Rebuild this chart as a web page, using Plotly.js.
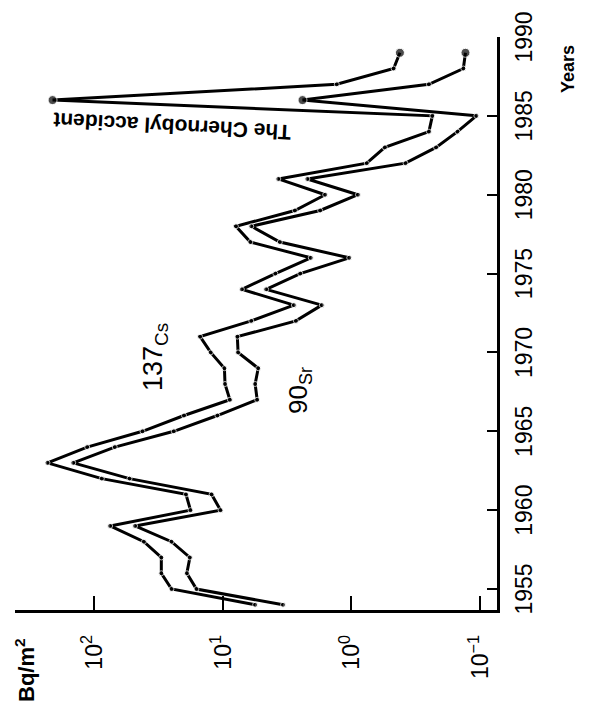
<!DOCTYPE html>
<html><head><meta charset="utf-8">
<script src="https://cdn.plot.ly/plotly-3.0.1.min.js"></script>
<style>
html,body{margin:0;padding:0;background:#fff;overflow:hidden;width:589px;height:708px;}
#wrap{position:absolute;left:0;top:0;width:708px;height:589px;transform-origin:0 0;transform:translate(0px,708px) rotate(-90deg);}
</style></head><body>
<div id="wrap"></div>
<script>
// Deposition, Bq/m2, per year
const years = [1954,1955,1956,1957,1958,1959,1960,1961,1962,1963,1964,1965,1966,1967,1968,1969,1970,1971,
               1972,1973,1974,1975,1976,1977,1978,1979,1980,1981,1982,1983,1984,1985,1986,1987,1988,1989];
const cs137 = [5.6,25,30,30,41,75,17.8,19.3,87,230,113,42,20,8.8,9.6,9.7,12.4,15,
               6,2.8,7.1,3.9,2.07,6.1,7.9,2.75,1.6,3.7,0.76,0.55,0.25,0.235,210,1.3,0.47,0.42];
const sr90  = [3.4,16,19,18,25,48,10.4,12.2,53,145,69,24,11,5.4,5.6,5.3,7.6,7.7,
               2.7,1.7,4.6,2.5,1.04,3.6,6.0,1.75,0.89,2.2,0.38,0.22,0.15,0.107,2.4,0.25,0.135,0.13];
const yearTicks = [1955,1960,1965,1970,1975,1980,1985,1990];
const decadeVals = [100,10,1,0.1];
const decadeLabels = ['10<sup>2</sup>','10<sup>1</sup>','10<sup>0</sup>','10<sup>\u22121</sup>'];

const FONT = 'Liberation Sans, Arial, Helvetica, sans-serif';
const bigAt = [1986, 1989];
function sizes(){ return years.map(y => bigAt.indexOf(y) >= 0 ? 9 : 5); }

const common = {
  type:'scatter', mode:'lines+markers', x: years,
  line:{color:'#000', width:3},
  marker:{color:'#000', size:sizes()},
  showlegend:false, hoverinfo:'skip'
};
const data = [
  Object.assign({}, common, {y: cs137, name:'137Cs'}),
  Object.assign({}, common, {y: sr90, name:'90Sr'})
];

const layout = {
  width:708, height:589,
  margin:{l:98, r:37, t:15, b:92, pad:0},
  paper_bgcolor:'#fff', plot_bgcolor:'#fff',
  font:{family:FONT, color:'#000'},
  xaxis:{
    range:[1953.67, 1990], showgrid:false, zeroline:false,
    showline:true, linecolor:'#000', linewidth:3,
    tickmode:'array', tickvals:yearTicks, ticktext:yearTicks.map(String),
    ticks:'inside', ticklen:10, tickwidth:2, tickcolor:'#000',
    tickfont:{size:23, family:FONT, color:'#000'}, ticklabelstandoff:4
  },
  yaxis:{
    type:'log', range:[-1.131, 2.614], showgrid:false, zeroline:false,
    showline:true, linecolor:'#000', linewidth:2.5,
    tickmode:'array', tickvals:decadeVals, ticktext:decadeLabels,
    ticks:'inside', ticklen:14, tickwidth:2, tickcolor:'#000',
    tickfont:{size:23, family:FONT, color:'#000'}, ticklabelstandoff:18
  },
  annotations:[
    {xref:'paper', yref:'paper', x:-0.164, y:0.979, xanchor:'left', yanchor:'middle',
     text:'<b>Bq/m<sup>2</sup></b>', showarrow:false, font:{size:22, family:FONT, color:'#000'}},
    {xref:'paper', yref:'paper', x:0.945, y:-0.147, xanchor:'center', yanchor:'middle',
     text:'<b>Years</b>', showarrow:false, font:{size:18, family:FONT, color:'#000'}},
    {xref:'x', yref:'y', x:1969.7, y:1.526, xanchor:'center', yanchor:'middle',
     text:'137<sub>Cs</sub>', showarrow:false, font:{size:27, family:FONT, color:'#000'}},
    {xref:'x', yref:'y', x:1967.6, y:0.40, xanchor:'center', yanchor:'middle',
     text:'90<sub>Sr</sub>', showarrow:false, font:{size:26, family:FONT, color:'#000'}},
    {xref:'x', yref:'y', x:1984.3, y:1.394, xanchor:'center', yanchor:'middle', textangle:-87,
     text:'<b>The Chernobyl accident</b>', showarrow:false, font:{size:21, family:FONT, color:'#000'}}
  ]
};
Plotly.newPlot('wrap', data, layout, {staticPlot:true, displayModeBar:false});
</script>
</body></html>
